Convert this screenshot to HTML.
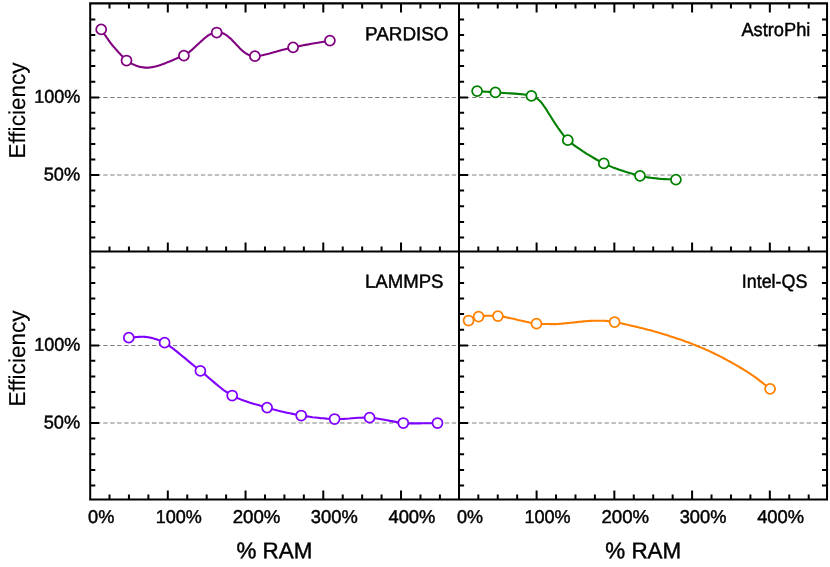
<!DOCTYPE html>
<html><head><meta charset="utf-8"><title>chart</title>
<style>
html,body{margin:0;padding:0;background:#fff;}
body{width:830px;height:567px;overflow:hidden;}
svg{display:block;will-change:transform;}
text{font-family:"Liberation Sans",sans-serif;fill:#000;stroke:#000;stroke-width:0.45px;text-rendering:geometricPrecision;}
.t{font-size:18.5px;}
.a{font-size:22.7px;}
.h{font-size:19px;}
.e{font-size:23.0px;stroke-width:0.15px;}
.f{stroke:#000;stroke-width:2.1;fill:none;}
.k{stroke:#000;stroke-width:2.0;fill:none;}
.g{stroke:#808080;stroke-width:1;stroke-dasharray:4.37 2.6;fill:none;}
.c{fill:none;stroke-width:2.1;stroke-linejoin:round;stroke-linecap:round;}
.m{fill:#fff;stroke-width:1.75;}
</style></head><body>
<svg width="830" height="567" viewBox="0 0 830 567">
<path class="g" d="M89.30 97.50H459.00"/>
<path class="g" d="M458.15 97.50H827.05"/>
<path class="g" d="M89.30 175.00H459.00"/>
<path class="g" d="M458.15 175.00H827.05"/>
<path class="g" d="M89.30 345.50H459.00"/>
<path class="g" d="M458.15 345.50H827.05"/>
<path class="g" d="M89.30 423.00H459.00"/>
<path class="g" d="M458.15 423.00H827.05"/>
<path class="c" stroke="#800080" d="M101.2 29.4 L101.6 30.1 L102.1 30.8 L102.6 31.5 L103.1 32.2 L103.6 32.9 L104.1 33.7 L104.5 34.4 L105.0 35.1 L105.5 35.7 L106.0 36.4 L106.4 37.1 L106.8 37.7 L107.2 38.2 L107.5 38.7 L107.9 39.2 L108.2 39.6 L108.5 40.1 L108.8 40.5 L109.1 41.0 L109.4 41.4 L109.8 41.9 L110.1 42.3 L110.4 42.8 L110.8 43.2 L111.1 43.7 L111.5 44.1 L111.9 44.6 L112.2 45.0 L112.6 45.5 L113.0 46.0 L113.4 46.4 L113.8 46.9 L114.2 47.3 L114.6 47.8 L115.0 48.2 L115.3 48.7 L115.8 49.2 L116.2 49.6 L116.6 50.1 L117.0 50.5 L117.4 51.0 L117.8 51.4 L118.2 51.9 L118.6 52.4 L119.0 52.8 L119.5 53.3 L119.9 53.7 L120.3 54.2 L120.8 54.7 L121.3 55.2 L121.8 55.8 L122.3 56.3 L122.7 56.9 L123.2 57.4 L123.7 58.0 L124.3 58.5 L124.8 59.0 L125.4 59.5 L125.9 60.0 L126.5 60.5 L127.3 61.0 L128.1 61.6 L128.9 62.1 L129.8 62.6 L130.7 63.1 L131.6 63.6 L132.6 64.1 L133.5 64.5 L134.4 64.9 L135.4 65.3 L136.3 65.7 L137.2 66.0 L137.9 66.3 L138.7 66.5 L139.5 66.7 L140.3 66.9 L141.0 67.0 L141.8 67.2 L142.6 67.3 L143.4 67.4 L144.1 67.5 L144.9 67.6 L145.6 67.6 L146.3 67.6 L147.0 67.7 L147.7 67.7 L148.3 67.6 L148.9 67.6 L149.6 67.5 L150.2 67.5 L150.8 67.4 L151.4 67.3 L152.0 67.2 L152.7 67.0 L153.3 66.9 L153.9 66.8 L154.6 66.7 L155.3 66.5 L156.1 66.3 L156.8 66.1 L157.5 65.9 L158.2 65.7 L158.9 65.5 L159.6 65.3 L160.3 65.0 L161.0 64.8 L161.7 64.5 L162.4 64.3 L163.2 64.0 L163.9 63.8 L164.6 63.5 L165.3 63.2 L166.0 62.9 L166.7 62.6 L167.4 62.3 L168.1 62.1 L168.8 61.8 L169.5 61.5 L170.2 61.2 L170.8 60.9 L171.4 60.7 L172.0 60.4 L172.6 60.2 L173.1 59.9 L173.7 59.7 L174.3 59.4 L174.8 59.2 L175.4 58.9 L175.9 58.7 L176.4 58.5 L177.0 58.2 L177.6 58.0 L178.1 57.8 L178.6 57.6 L179.2 57.4 L179.7 57.3 L180.2 57.1 L180.8 57.0 L181.3 56.8 L181.8 56.6 L182.3 56.4 L182.9 56.2 L183.4 56.0 L183.9 55.7 L184.6 55.3 L185.2 55.0 L185.9 54.5 L186.5 54.1 L187.1 53.6 L187.8 53.2 L188.4 52.7 L189.0 52.2 L189.7 51.6 L190.3 51.1 L190.9 50.6 L191.6 50.1 L192.2 49.6 L192.8 49.0 L193.5 48.4 L194.1 47.8 L194.7 47.2 L195.4 46.6 L196.0 46.0 L196.6 45.4 L197.3 44.9 L197.9 44.3 L198.5 43.7 L199.2 43.1 L199.8 42.5 L200.4 42.0 L201.1 41.4 L201.7 40.8 L202.4 40.2 L203.0 39.6 L203.6 39.1 L204.3 38.5 L204.9 38.0 L205.5 37.5 L206.1 37.0 L206.7 36.6 L207.0 36.3 L207.4 36.0 L207.8 35.8 L208.1 35.5 L208.5 35.3 L208.8 35.1 L209.2 34.8 L209.6 34.6 L209.9 34.4 L210.3 34.3 L210.7 34.1 L211.1 33.9 L211.5 33.7 L211.9 33.6 L212.4 33.4 L212.8 33.2 L213.3 33.1 L213.8 33.0 L214.2 32.9 L214.7 32.8 L215.2 32.7 L215.7 32.6 L216.2 32.5 L216.7 32.5 L217.2 32.5 L217.7 32.5 L218.2 32.5 L218.7 32.5 L219.3 32.5 L219.8 32.6 L220.3 32.6 L220.9 32.7 L221.4 32.8 L221.9 33.0 L222.4 33.1 L222.9 33.3 L223.5 33.5 L224.1 33.8 L224.6 34.1 L225.2 34.4 L225.7 34.8 L226.3 35.1 L226.8 35.5 L227.3 35.9 L227.9 36.3 L228.4 36.7 L228.9 37.2 L229.4 37.6 L230.0 38.1 L230.6 38.6 L231.1 39.1 L231.7 39.7 L232.2 40.2 L232.7 40.8 L233.3 41.4 L233.8 41.9 L234.3 42.5 L234.9 43.1 L235.4 43.6 L235.9 44.2 L236.5 44.8 L237.0 45.3 L237.6 45.9 L238.1 46.5 L238.7 47.0 L239.2 47.6 L239.7 48.2 L240.3 48.7 L240.8 49.2 L241.4 49.7 L241.9 50.2 L242.4 50.7 L242.9 51.1 L243.4 51.5 L243.8 51.8 L244.2 52.2 L244.7 52.5 L245.1 52.8 L245.6 53.1 L246.0 53.4 L246.5 53.7 L247.0 54.0 L247.4 54.3 L247.9 54.5 L248.5 54.7 L249.0 55.0 L249.5 55.2 L250.0 55.4 L250.5 55.5 L251.0 55.7 L251.6 55.8 L252.2 56.0 L252.8 56.1 L253.4 56.1 L254.2 56.2 L254.9 56.2 L257.1 56.1 L259.5 55.7 L262.3 55.2 L265.4 54.5 L268.7 53.7 L272.1 52.7 L275.7 51.8 L279.3 50.8 L282.8 49.8 L286.4 48.9 L289.8 48.0 L293.1 47.3 L296.1 46.7 L299.2 46.1 L302.3 45.5 L305.3 44.9 L308.4 44.4 L311.5 43.8 L314.5 43.3 L317.6 42.8 L320.7 42.2 L323.7 41.7 L326.8 41.2 L329.9 40.6"/>
<circle class="m" stroke="#800080" cx="101.2" cy="29.4" r="5.0"/>
<circle class="m" stroke="#800080" cx="126.5" cy="60.5" r="5.0"/>
<circle class="m" stroke="#800080" cx="183.9" cy="55.7" r="5.0"/>
<circle class="m" stroke="#800080" cx="216.7" cy="32.5" r="5.0"/>
<circle class="m" stroke="#800080" cx="254.9" cy="56.2" r="5.0"/>
<circle class="m" stroke="#800080" cx="293.1" cy="47.3" r="5.0"/>
<circle class="m" stroke="#800080" cx="329.9" cy="40.6" r="5.0"/>
<path class="c" stroke="#008000" d="M477.1 91.1 L478.6 91.2 L480.1 91.3 L481.6 91.4 L483.0 91.5 L484.4 91.6 L485.9 91.7 L487.3 91.8 L488.8 91.9 L490.4 92.0 L492.0 92.1 L493.6 92.3 L495.4 92.4 L498.0 92.6 L501.0 92.8 L504.1 93.0 L507.5 93.2 L510.9 93.4 L514.3 93.6 L517.7 93.9 L520.9 94.1 L524.0 94.5 L526.8 94.9 L529.3 95.4 L531.4 95.9 L532.2 96.2 L533.1 96.5 L533.8 96.8 L534.5 97.1 L535.2 97.4 L535.8 97.8 L536.4 98.1 L537.0 98.5 L537.5 98.9 L538.1 99.3 L538.6 99.7 L539.1 100.2 L539.7 100.7 L540.2 101.2 L540.6 101.7 L541.1 102.2 L541.5 102.7 L542.0 103.3 L542.4 103.9 L542.8 104.4 L543.2 105.0 L543.6 105.6 L544.0 106.2 L544.5 106.8 L544.9 107.4 L545.4 108.1 L545.8 108.7 L546.2 109.4 L546.7 110.1 L547.1 110.8 L547.5 111.5 L548.0 112.2 L548.4 112.9 L548.8 113.6 L549.3 114.3 L549.8 115.0 L550.3 115.8 L550.8 116.7 L551.3 117.5 L551.9 118.4 L552.4 119.3 L553.0 120.2 L553.5 121.1 L554.1 121.9 L554.7 122.8 L555.2 123.7 L555.8 124.6 L556.4 125.4 L556.9 126.2 L557.5 127.0 L558.0 127.8 L558.6 128.6 L559.2 129.4 L559.7 130.2 L560.3 131.0 L560.9 131.7 L561.4 132.5 L562.0 133.2 L562.5 133.9 L563.0 134.6 L563.4 135.1 L563.8 135.6 L564.1 136.1 L564.4 136.5 L564.7 136.9 L565.1 137.4 L565.4 137.8 L565.8 138.2 L566.2 138.7 L566.6 139.2 L567.2 139.7 L567.8 140.2 L569.5 141.7 L571.7 143.4 L574.2 145.3 L577.1 147.3 L580.2 149.4 L583.4 151.6 L586.8 153.8 L590.3 155.9 L593.8 158.0 L597.2 160.0 L600.6 161.8 L603.8 163.4 L606.7 164.8 L609.8 166.1 L612.9 167.4 L616.1 168.6 L619.3 169.7 L622.5 170.8 L625.6 171.8 L628.7 172.7 L631.7 173.6 L634.6 174.4 L637.3 175.1 L640.0 175.8 L641.7 176.2 L643.3 176.6 L644.9 176.9 L646.4 177.2 L647.9 177.4 L649.4 177.6 L650.8 177.8 L652.2 178.0 L653.7 178.1 L655.1 178.3 L656.6 178.4 L658.0 178.6 L659.5 178.7 L661.0 178.9 L662.5 179.0 L664.0 179.1 L665.5 179.1 L667.0 179.2 L668.4 179.3 L669.9 179.3 L671.4 179.4 L672.9 179.5 L674.4 179.5 L675.9 179.6"/>
<circle class="m" stroke="#008000" cx="477.1" cy="91.1" r="5.0"/>
<circle class="m" stroke="#008000" cx="495.4" cy="92.4" r="5.0"/>
<circle class="m" stroke="#008000" cx="531.4" cy="95.9" r="5.0"/>
<circle class="m" stroke="#008000" cx="567.8" cy="140.2" r="5.0"/>
<circle class="m" stroke="#008000" cx="603.8" cy="163.4" r="5.0"/>
<circle class="m" stroke="#008000" cx="640.0" cy="175.8" r="5.0"/>
<circle class="m" stroke="#008000" cx="675.9" cy="179.6" r="5.0"/>
<path class="c" stroke="#8000ff" d="M128.8 337.7 L129.7 337.6 L130.6 337.6 L131.5 337.5 L132.4 337.4 L133.2 337.3 L134.1 337.2 L135.0 337.2 L135.9 337.1 L136.7 337.0 L137.5 337.0 L138.3 336.9 L139.1 336.9 L139.6 336.9 L140.1 336.9 L140.6 336.8 L141.1 336.8 L141.6 336.8 L142.1 336.8 L142.5 336.8 L143.0 336.8 L143.4 336.8 L143.9 336.8 L144.4 336.9 L144.8 336.9 L145.3 336.9 L145.8 337.0 L146.3 337.0 L146.8 337.1 L147.3 337.1 L147.8 337.2 L148.3 337.3 L148.8 337.4 L149.3 337.4 L149.7 337.5 L150.2 337.6 L150.7 337.7 L151.0 337.8 L151.4 337.9 L151.7 337.9 L152.1 338.0 L152.4 338.1 L152.7 338.2 L153.1 338.3 L153.4 338.4 L153.8 338.5 L154.1 338.6 L154.5 338.8 L154.9 338.9 L155.6 339.1 L156.3 339.3 L157.0 339.5 L157.7 339.8 L158.4 340.0 L159.2 340.3 L160.0 340.6 L160.9 340.9 L161.7 341.3 L162.6 341.7 L163.6 342.2 L164.6 342.7 L166.8 344.1 L169.3 345.8 L172.1 347.9 L175.0 350.1 L178.1 352.6 L181.3 355.2 L184.6 357.9 L187.8 360.6 L191.1 363.4 L194.3 366.0 L197.5 368.5 L200.4 370.9 L203.1 373.1 L205.8 375.2 L208.4 377.5 L211.0 379.7 L213.6 381.9 L216.2 384.1 L218.8 386.2 L221.4 388.3 L224.0 390.3 L226.7 392.1 L229.4 393.9 L232.2 395.5 L235.0 396.9 L237.8 398.2 L240.7 399.4 L243.6 400.5 L246.5 401.5 L249.4 402.5 L252.4 403.4 L255.3 404.3 L258.3 405.1 L261.3 405.9 L264.2 406.8 L267.1 407.6 L270.0 408.4 L272.8 409.2 L275.7 409.9 L278.5 410.7 L281.3 411.4 L284.2 412.1 L287.0 412.7 L289.9 413.3 L292.7 413.9 L295.6 414.5 L298.4 415.0 L301.2 415.5 L304.0 416.0 L306.8 416.4 L309.6 416.8 L312.4 417.2 L315.1 417.5 L317.9 417.8 L320.7 418.1 L323.5 418.3 L326.2 418.6 L329.0 418.7 L331.8 418.9 L334.6 419.0 L337.5 419.0 L340.4 419.0 L343.4 418.9 L346.3 418.7 L349.2 418.5 L352.1 418.2 L355.1 418.0 L358.0 417.8 L360.9 417.7 L363.9 417.6 L366.8 417.6 L369.6 417.7 L372.5 417.9 L375.4 418.3 L378.4 418.7 L381.3 419.2 L384.3 419.7 L387.2 420.3 L390.1 420.9 L392.9 421.4 L395.7 421.9 L398.3 422.4 L400.9 422.7 L403.3 423.0 L404.9 423.1 L406.5 423.2 L408.0 423.3 L409.4 423.4 L410.8 423.4 L412.2 423.4 L413.6 423.4 L414.9 423.4 L416.3 423.4 L417.6 423.4 L419.0 423.4 L420.4 423.4 L421.8 423.3 L423.3 423.3 L424.7 423.3 L426.1 423.3 L427.5 423.3 L429.0 423.2 L430.4 423.2 L431.8 423.1 L433.2 423.1 L434.6 423.1 L436.1 423.0 L437.5 423.0"/>
<circle class="m" stroke="#8000ff" cx="128.8" cy="337.7" r="5.0"/>
<circle class="m" stroke="#8000ff" cx="164.6" cy="342.7" r="5.0"/>
<circle class="m" stroke="#8000ff" cx="200.4" cy="370.9" r="5.0"/>
<circle class="m" stroke="#8000ff" cx="232.2" cy="395.5" r="5.0"/>
<circle class="m" stroke="#8000ff" cx="267.1" cy="407.6" r="5.0"/>
<circle class="m" stroke="#8000ff" cx="301.2" cy="415.5" r="5.0"/>
<circle class="m" stroke="#8000ff" cx="334.6" cy="419.0" r="5.0"/>
<circle class="m" stroke="#8000ff" cx="369.6" cy="417.7" r="5.0"/>
<circle class="m" stroke="#8000ff" cx="403.3" cy="423.0" r="5.0"/>
<circle class="m" stroke="#8000ff" cx="437.5" cy="423.0" r="5.0"/>
<path class="c" stroke="#ff8000" d="M468.6 320.5 L469.4 320.2 L470.2 319.8 L471.0 319.5 L471.8 319.1 L472.6 318.7 L473.4 318.4 L474.2 318.0 L475.0 317.7 L475.8 317.4 L476.7 317.1 L477.6 316.8 L478.6 316.6 L480.0 316.4 L481.4 316.1 L482.8 316.0 L484.3 315.9 L485.8 315.8 L487.4 315.7 L489.1 315.7 L490.7 315.7 L492.5 315.8 L494.2 315.8 L496.0 316.0 L497.9 316.1 L500.7 316.4 L503.9 316.9 L507.2 317.5 L510.7 318.3 L514.4 319.0 L518.0 319.9 L521.6 320.7 L525.0 321.5 L528.3 322.2 L531.4 322.9 L534.1 323.4 L536.5 323.7 L537.5 323.8 L538.5 323.9 L539.3 323.9 L540.2 324.0 L540.9 324.0 L541.7 324.0 L542.4 324.0 L543.1 324.0 L543.9 324.0 L544.6 324.0 L545.4 324.0 L546.2 324.0 L547.1 324.0 L548.1 324.0 L549.1 324.0 L550.1 324.1 L551.1 324.1 L552.2 324.1 L553.2 324.1 L554.2 324.1 L555.1 324.1 L556.1 324.1 L557.0 324.0 L557.9 324.0 L558.6 324.0 L559.2 323.9 L559.8 323.9 L560.5 323.8 L561.1 323.8 L561.7 323.7 L562.2 323.6 L562.8 323.6 L563.4 323.5 L564.0 323.4 L564.6 323.4 L565.2 323.3 L565.8 323.2 L566.4 323.2 L567.0 323.1 L567.6 323.1 L568.2 323.0 L568.8 323.0 L569.4 322.9 L570.0 322.8 L570.6 322.8 L571.2 322.7 L571.8 322.7 L572.4 322.6 L573.1 322.5 L573.8 322.5 L574.5 322.4 L575.2 322.3 L575.9 322.2 L576.6 322.1 L577.3 322.1 L578.0 322.0 L578.7 321.9 L579.4 321.8 L580.1 321.8 L580.8 321.7 L581.4 321.6 L582.0 321.6 L582.7 321.5 L583.3 321.4 L583.9 321.4 L584.5 321.3 L585.1 321.3 L585.7 321.2 L586.3 321.1 L586.9 321.1 L587.6 321.0 L588.2 321.0 L589.0 321.0 L589.7 320.9 L590.5 320.9 L591.3 320.9 L592.1 320.8 L592.9 320.8 L593.7 320.8 L594.5 320.8 L595.3 320.8 L596.1 320.8 L596.9 320.8 L597.7 320.8 L598.4 320.7 L599.1 320.7 L599.9 320.7 L600.6 320.7 L601.3 320.7 L602.0 320.7 L602.7 320.8 L603.4 320.8 L604.1 320.8 L604.8 320.8 L605.5 320.9 L606.2 320.9 L606.9 321.0 L607.6 321.0 L608.2 321.1 L608.9 321.2 L609.6 321.2 L610.2 321.3 L610.9 321.4 L611.6 321.5 L612.3 321.6 L613.0 321.7 L613.8 321.9 L614.6 322.0 L615.8 322.2 L617.0 322.4 L618.2 322.7 L619.5 323.0 L620.9 323.2 L622.2 323.5 L623.6 323.9 L625.0 324.2 L626.4 324.5 L627.8 324.8 L629.3 325.2 L630.7 325.5 L632.3 325.9 L634.0 326.3 L635.7 326.7 L637.4 327.1 L639.1 327.5 L640.8 327.9 L642.5 328.3 L644.3 328.8 L646.0 329.2 L647.8 329.7 L649.5 330.1 L651.2 330.6 L652.9 331.1 L654.6 331.5 L656.3 332.0 L658.0 332.5 L659.7 333.0 L661.4 333.5 L663.1 334.0 L664.8 334.6 L666.5 335.1 L668.2 335.6 L669.9 336.2 L671.6 336.7 L673.3 337.3 L675.0 337.8 L676.7 338.4 L678.5 339.0 L680.2 339.6 L681.9 340.1 L683.6 340.7 L685.3 341.4 L687.0 342.0 L688.7 342.6 L690.4 343.2 L692.1 343.9 L693.8 344.6 L695.5 345.3 L697.3 346.0 L699.0 346.7 L700.7 347.4 L702.4 348.1 L704.1 348.8 L705.8 349.6 L707.5 350.3 L709.2 351.1 L710.9 351.9 L712.6 352.7 L714.3 353.5 L716.0 354.4 L717.8 355.2 L719.5 356.1 L721.2 356.9 L722.9 357.8 L724.6 358.7 L726.3 359.6 L728.0 360.6 L729.7 361.5 L731.4 362.4 L733.1 363.4 L734.8 364.4 L736.6 365.4 L738.3 366.4 L740.1 367.5 L741.8 368.5 L743.6 369.6 L745.3 370.6 L747.0 371.7 L748.7 372.8 L750.4 373.9 L752.0 375.0 L753.6 376.1 L755.1 377.1 L756.5 378.2 L757.9 379.2 L759.3 380.3 L760.6 381.3 L762.0 382.4 L763.3 383.5 L764.7 384.5 L766.0 385.6 L767.4 386.7 L768.7 387.7 L770.1 388.8"/>
<circle class="m" stroke="#ff8000" cx="468.6" cy="320.5" r="5.0"/>
<circle class="m" stroke="#ff8000" cx="478.6" cy="316.6" r="5.0"/>
<circle class="m" stroke="#ff8000" cx="497.9" cy="316.1" r="5.0"/>
<circle class="m" stroke="#ff8000" cx="536.5" cy="323.7" r="5.0"/>
<circle class="m" stroke="#ff8000" cx="614.6" cy="322.0" r="5.0"/>
<circle class="m" stroke="#ff8000" cx="770.1" cy="388.8" r="5.0"/>
<path class="k" d="M109.50 3.40v5.1M109.50 251.50v-5.1M109.50 499.55v-5.1M478.31 3.40v5.1M478.31 251.50v-5.1M478.31 499.55v-5.1M128.94 3.40v5.1M128.94 251.50v-5.1M128.94 499.55v-5.1M497.74 3.40v5.1M497.74 251.50v-5.1M497.74 499.55v-5.1M148.38 3.40v5.1M148.38 251.50v-5.1M148.38 499.55v-5.1M517.17 3.40v5.1M517.17 251.50v-5.1M517.17 499.55v-5.1M167.81 3.40v9.0M167.81 251.50v-9.0M167.81 499.55v-9.0M536.61 3.40v9.0M536.61 251.50v-9.0M536.61 499.55v-9.0M187.25 3.40v5.1M187.25 251.50v-5.1M187.25 499.55v-5.1M556.04 3.40v5.1M556.04 251.50v-5.1M556.04 499.55v-5.1M206.68 3.40v5.1M206.68 251.50v-5.1M206.68 499.55v-5.1M575.48 3.40v5.1M575.48 251.50v-5.1M575.48 499.55v-5.1M226.11 3.40v5.1M226.11 251.50v-5.1M226.11 499.55v-5.1M594.91 3.40v5.1M594.91 251.50v-5.1M594.91 499.55v-5.1M245.55 3.40v9.0M245.55 251.50v-9.0M245.55 499.55v-9.0M614.35 3.40v9.0M614.35 251.50v-9.0M614.35 499.55v-9.0M264.99 3.40v5.1M264.99 251.50v-5.1M264.99 499.55v-5.1M633.78 3.40v5.1M633.78 251.50v-5.1M633.78 499.55v-5.1M284.42 3.40v5.1M284.42 251.50v-5.1M284.42 499.55v-5.1M653.22 3.40v5.1M653.22 251.50v-5.1M653.22 499.55v-5.1M303.86 3.40v5.1M303.86 251.50v-5.1M303.86 499.55v-5.1M672.65 3.40v5.1M672.65 251.50v-5.1M672.65 499.55v-5.1M323.29 3.40v9.0M323.29 251.50v-9.0M323.29 499.55v-9.0M692.09 3.40v9.0M692.09 251.50v-9.0M692.09 499.55v-9.0M342.72 3.40v5.1M342.72 251.50v-5.1M342.72 499.55v-5.1M711.52 3.40v5.1M711.52 251.50v-5.1M711.52 499.55v-5.1M362.16 3.40v5.1M362.16 251.50v-5.1M362.16 499.55v-5.1M730.96 3.40v5.1M730.96 251.50v-5.1M730.96 499.55v-5.1M381.59 3.40v5.1M381.59 251.50v-5.1M381.59 499.55v-5.1M750.39 3.40v5.1M750.39 251.50v-5.1M750.39 499.55v-5.1M401.03 3.40v9.0M401.03 251.50v-9.0M401.03 499.55v-9.0M769.83 3.40v9.0M769.83 251.50v-9.0M769.83 499.55v-9.0M420.46 3.40v5.1M420.46 251.50v-5.1M420.46 499.55v-5.1M789.26 3.40v5.1M789.26 251.50v-5.1M789.26 499.55v-5.1M439.90 3.40v5.1M439.90 251.50v-5.1M439.90 499.55v-5.1M808.70 3.40v5.1M808.70 251.50v-5.1M808.70 499.55v-5.1M90.20 237.60h5.1M459.00 237.60h5.1M827.05 237.60h-5.1M90.20 485.60h5.1M459.00 485.60h5.1M827.05 485.60h-5.1M90.20 221.90h5.1M459.00 221.90h5.1M827.05 221.90h-5.1M90.20 469.90h5.1M459.00 469.90h5.1M827.05 469.90h-5.1M90.20 206.30h5.1M459.00 206.30h5.1M827.05 206.30h-5.1M90.20 454.30h5.1M459.00 454.30h5.1M827.05 454.30h-5.1M90.20 190.40h5.1M459.00 190.40h5.1M827.05 190.40h-5.1M90.20 438.40h5.1M459.00 438.40h5.1M827.05 438.40h-5.1M90.20 175.00h9.0M459.00 175.00h9.0M827.05 175.00h-5.1M90.20 423.00h9.0M459.00 423.00h9.0M827.05 423.00h-5.1M90.20 159.51h5.1M459.00 159.51h5.1M827.05 159.51h-5.1M90.20 407.51h5.1M459.00 407.51h5.1M827.05 407.51h-5.1M90.20 143.94h5.1M459.00 143.94h5.1M827.05 143.94h-5.1M90.20 391.94h5.1M459.00 391.94h5.1M827.05 391.94h-5.1M90.20 128.38h5.1M459.00 128.38h5.1M827.05 128.38h-5.1M90.20 376.38h5.1M459.00 376.38h5.1M827.05 376.38h-5.1M90.20 112.81h5.1M459.00 112.81h5.1M827.05 112.81h-5.1M90.20 360.81h5.1M459.00 360.81h5.1M827.05 360.81h-5.1M90.20 97.45h9.0M459.00 97.45h9.0M827.05 97.45h-9.0M90.20 345.45h9.0M459.00 345.45h9.0M827.05 345.45h-9.0M90.20 81.69h5.1M459.00 81.69h5.1M827.05 81.69h-5.1M90.20 329.69h5.1M459.00 329.69h5.1M827.05 329.69h-5.1M90.20 66.12h5.1M459.00 66.12h5.1M827.05 66.12h-5.1M90.20 314.12h5.1M459.00 314.12h5.1M827.05 314.12h-5.1M90.20 50.56h5.1M459.00 50.56h5.1M827.05 50.56h-5.1M90.20 298.56h5.1M459.00 298.56h5.1M827.05 298.56h-5.1M90.20 34.99h5.1M459.00 34.99h5.1M827.05 34.99h-5.1M90.20 282.99h5.1M459.00 282.99h5.1M827.05 282.99h-5.1M90.20 19.43h5.1M459.00 19.43h5.1M827.05 19.43h-5.1M90.20 267.43h5.1M459.00 267.43h5.1M827.05 267.43h-5.1"/>
<path class="f" d="M89.2 3.4H828.05 M89.2 499.55H828.05 M90.2 251.5H827.05"/>
<path class="f" style="stroke-width:2" d="M90.2 3.4V499.55 M827.05 3.4V499.55 M459.0 3.4V499.55"/>
<text class="t" transform="translate(34.15 102.85) rotate(0.03) scale(0.9750 1)">100%</text>
<text class="t" transform="translate(43.73 180.48) rotate(0.03) scale(0.9834 1)">50%</text>
<text class="t" transform="translate(34.15 350.85) rotate(0.03) scale(0.9750 1)">100%</text>
<text class="t" transform="translate(43.73 428.48) rotate(0.03) scale(0.9834 1)">50%</text>
<text class="t" transform="translate(88.10 523.08) rotate(0.03) scale(0.9806 1)">0%</text>
<text class="t" transform="translate(155.65 523.08) rotate(0.03) scale(0.9750 1)">100%</text>
<text class="t" transform="translate(232.67 523.08) rotate(0.03) scale(1.0068 1)">200%</text>
<text class="t" transform="translate(310.85 523.08) rotate(0.03) scale(0.9900 1)">300%</text>
<text class="t" transform="translate(388.46 523.08) rotate(0.03) scale(0.9899 1)">400%</text>
<text class="t" transform="translate(456.90 523.08) rotate(0.03) scale(0.9729 1)">0%</text>
<text class="t" transform="translate(524.50 523.08) rotate(0.03) scale(0.9750 1)">100%</text>
<text class="t" transform="translate(601.52 523.08) rotate(0.03) scale(1.0057 1)">200%</text>
<text class="t" transform="translate(679.70 523.08) rotate(0.03) scale(0.9868 1)">300%</text>
<text class="t" transform="translate(757.16 523.08) rotate(0.03) scale(0.9899 1)">400%</text>
<text class="a" transform="translate(236.48 558.23) rotate(0.03) scale(0.9860 1)">% RAM</text>
<text class="a" transform="translate(605.28 558.23) rotate(0.03) scale(0.9860 1)">% RAM</text>
<text class="e" transform="translate(25.35 158.52) rotate(-90) scale(0.9797 1)">Efficiency</text>
<text class="e" transform="translate(25.35 406.62) rotate(-90) scale(0.9818 1)">Efficiency</text>
<text class="h" transform="translate(365.12 40.18) rotate(0.03) scale(0.9917 1)">PARDISO</text>
<text class="h" transform="translate(741.46 35.98) rotate(0.03) scale(0.9595 1)">AstroPhi</text>
<text class="h" transform="translate(365.04 287.78) rotate(0.03) scale(0.9772 1)">LAMMPS</text>
<text class="h" transform="translate(741.76 287.68) rotate(0.03) scale(0.9417 1)">Intel-QS</text>
</svg></body></html>
